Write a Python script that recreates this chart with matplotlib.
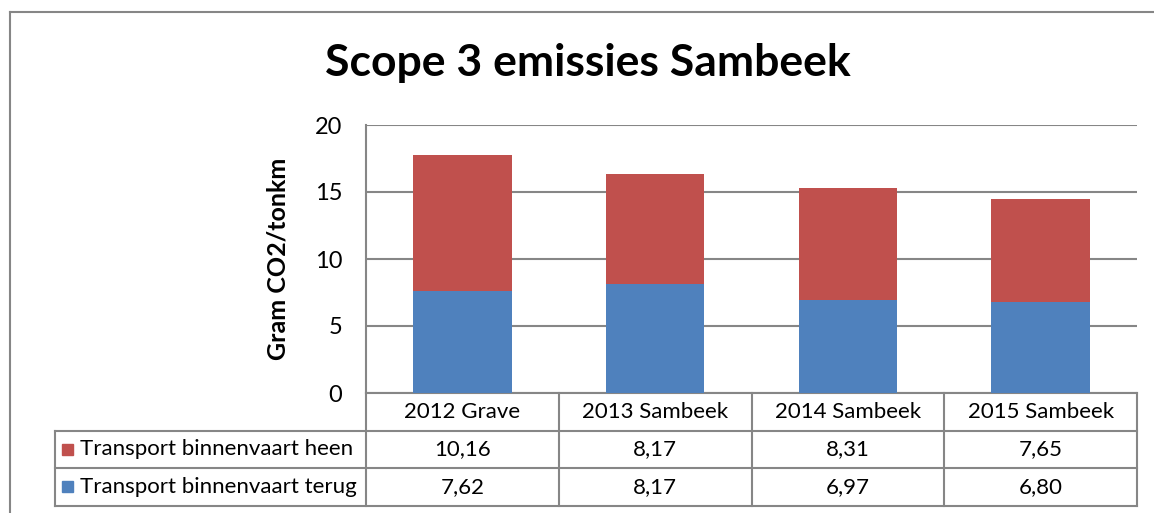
import matplotlib.pyplot as plt
from matplotlib.lines import Line2D
from matplotlib.patches import Rectangle
from matplotlib.transforms import blended_transform_factory

plt.rcParams['font.family'] = ['Lato', 'DejaVu Sans']

categories = ["2012 Grave", "2013 Sambeek", "2014 Sambeek", "2015 Sambeek"]
heen = [10.16, 8.17, 8.31, 7.65]   # Transport binnenvaart heen
terug = [7.62, 8.17, 6.97, 6.80]   # Transport binnenvaart terug
series_names = ["Transport binnenvaart heen", "Transport binnenvaart terug"]
series_values = [heen, terug]
colors = ["#C0504D", "#4F81BD"]
yticks = [0, 5, 10, 15, 20]

W, H = 1154, 513
fig = plt.figure(figsize=(W / 100, H / 100), dpi=100)

# chart area frame (left + top edge visible)
line_col = "#868686"
fig.add_artist(Line2D([10 / W, 10 / W], [0, 1 - 12 / H], color=line_col, lw=1.5))
fig.add_artist(Line2D([10 / W, 1], [1 - 12 / H, 1 - 12 / H], color=line_col, lw=1.5))

fig.text(588 / W, 1 - 63 / H, "Scope 3 emissies Sambeek", ha="center", va="center",
         fontsize=32, fontweight="bold")

ax = fig.add_axes([366 / W, (H - 393) / H, 771 / W, 268 / H])
x = range(len(categories))
ax.bar(x, terug, 0.51, color=colors[1], zorder=3)
ax.bar(x, heen, 0.51, bottom=terug, color=colors[0], zorder=3)

ax.set_xlim(-0.5, len(categories) - 0.5)
ax.set_ylim(0, 20)
ax.set_yticks(yticks)
ax.set_xticks([])
ax.tick_params(axis="y", length=0, pad=17, labelsize=17)
ax.grid(axis="y", color=line_col, lw=1.5, zorder=0)
for s in ["top", "right"]:
    ax.spines[s].set_visible(False)
for s in ["left", "bottom"]:
    ax.spines[s].set_color(line_col)
    ax.spines[s].set_linewidth(1.5)
ax.set_ylabel("Gram CO2/tonkm", fontsize=18, fontweight="bold", labelpad=18)

# data table below the axis
rh = 37.5 / 268
n = len(categories)
lab_x0 = (55 - 366) / 771
tab = dict(color=line_col, lw=1.5, transform=ax.transAxes, clip_on=False)
for i in range(n + 1):
    ax.add_line(Line2D([i / n, i / n], [0, -3 * rh], **tab))
ax.add_line(Line2D([lab_x0, lab_x0], [-rh, -3 * rh], **tab))
for r in [1, 2, 3]:
    ax.add_line(Line2D([lab_x0, 1], [-r * rh, -r * rh], **tab))

bt = blended_transform_factory(ax.transData, ax.transAxes)
fs = 16
for i, c in enumerate(categories):
    ax.text(i, -0.5 * rh, c, ha="center", va="center", fontsize=fs, transform=bt)
for r, (name, vals, col) in enumerate(zip(series_names, series_values, colors)):
    yc = -(r + 1.5) * rh
    ax.add_patch(Rectangle(((62 - 366) / 771, yc - 5.5 / 268), 11 / 771, 11 / 268,
                           color=col, transform=ax.transAxes, clip_on=False))
    ax.text((80 - 366) / 771, yc, name, ha="left", va="center", fontsize=fs,
            transform=ax.transAxes)
    for i, v in enumerate(vals):
        ax.text(i, yc, f"{v:.2f}".replace(".", ","), ha="center", va="center",
                fontsize=fs, transform=bt)

plt.savefig("out.png", dpi=100)
